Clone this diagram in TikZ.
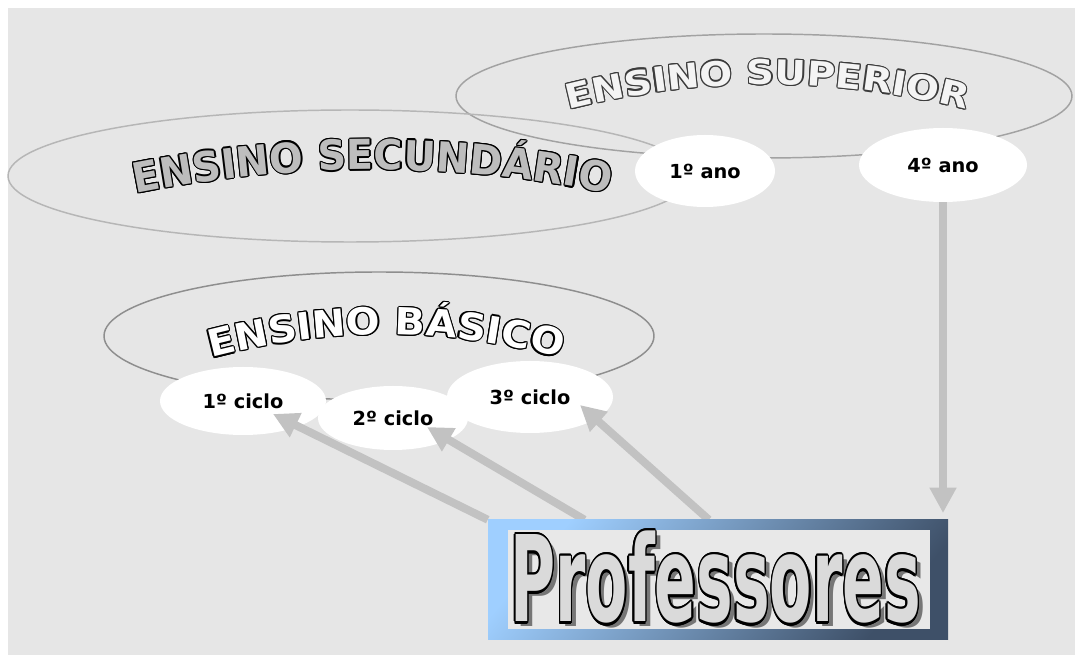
\documentclass[tikz,border=0pt]{standalone}
\usepackage{fontspec}
\usepackage{graphicx}
\usepackage{contour}
\usetikzlibrary{shapes.geometric,arrows.meta,calc,decorations.text}
\setmainfont{DejaVu Sans}
\newfontfamily\secfam{DejaVu Sans}[FakeStretch=0.96]
\newfontfamily\basfam{DejaVu Sans}[FakeStretch=1.07]
\newfontfamily\supfam{DejaVu Sans}[FakeStretch=1.14]
\newfontfamily\labfam{DejaVu Sans}

\definecolor{bggray}{HTML}{E6E6E6}
\definecolor{panelgray}{HTML}{E8E8E8}
\definecolor{arrgray}{HTML}{C2C2C2}
\definecolor{secfill}{HTML}{BDBDBD}
\definecolor{supfill}{HTML}{F4F4F4}
\definecolor{supline}{HTML}{3C3C3C}
\definecolor{ringsup}{HTML}{A2A2A2}
\definecolor{ringsec}{HTML}{B6B6B6}
\definecolor{ringbas}{HTML}{8E8E8E}
\definecolor{boxlight}{HTML}{9FCFFF}
\definecolor{boxdark}{HTML}{3E5068}
\definecolor{letterfill}{HTML}{DADADA}
\definecolor{shadowgray}{HTML}{767676}

\newcommand\secfont{\secfam\bfseries\fontsize{31}{33}\selectfont}
\newcommand\basfont{\basfam\bfseries\fontsize{28}{30}\selectfont}
\newcommand\supfont{\supfam\bfseries\fontsize{25.5}{28}\selectfont}
\newcommand\labelfont{\labfam\bfseries\fontsize{14.5}{16}\selectfont}
\newcommand\proffont{\labfam\bfseries\fontsize{93}{100}\selectfont}

% outlined text along an arc: #1 path, #2 font, #3 text, #4 fill, #5 outline
\newcommand\archedtitle[5]{%
  \foreach \a in {0,30,...,330}{%
    \path[decorate, shift={(\a:0.9pt)},
      decoration={text along path, text={|#2|#3}, text align=center, text color=#5}] #1;
  }%
  \path[decorate,
    decoration={text along path, text={|#2|#3}, text align=center, text color=#4}] #1;
}

\begin{document}
\begin{tikzpicture}[x=0.75pt, y=-0.75pt,
  bubble/.style={ellipse, fill=white, inner sep=0pt, font=\labelfont},
  arr/.style={draw=arrgray, line width=6pt, -{Triangle[length=19pt,width=19pt]}},
  ring/.style={line width=1.1pt}]
\useasboundingbox (0,0) rectangle (1075,655);
\fill[white] (0,0) rectangle (1075,655);
\fill[bggray] (8,8) rectangle (1075,655);

% level outlines
\draw[ring, draw=ringsup] (764,96) ellipse [x radius=308, y radius=62];
\draw[ring, draw=ringsec] (350,176) ellipse [x radius=342, y radius=66];
\draw[ring, draw=ringbas] (379,336) ellipse [x radius=275, y radius=64];

% arched level titles
\archedtitle{(110,199) .. controls (285,160) and (460,160) .. (635,199)}{\secfont}{ENSINO SECUNDÁRIO}{secfill}{black}
\archedtitle{(545,116) .. controls (693,74) and (842,74) .. (990,116)}{\supfont}{ENSINO SUPERIOR}{supfill}{supline}
\archedtitle{(190,364) .. controls (322,325) and (450,325) .. (582,364)}{\basfont}{ENSINO BÁSICO}{white}{black}

% years and cycles
\node[bubble, minimum width=105pt, minimum height=54pt] (ano1) at (705,171) {1º ano};
\node[bubble, minimum width=126pt, minimum height=55.5pt] (ano4) at (943,165) {4º ano};
\node[bubble, minimum width=124.5pt, minimum height=51pt] (c1) at (243,401) {1º ciclo};
\node[bubble, minimum width=112.5pt, minimum height=48pt] (c2) at (393,418) {2º ciclo};
\node[bubble, minimum width=124.5pt, minimum height=54pt] (c3) at (530,397) {3º ciclo};

% teachers banner frame (placed first so the arrows can refer to it)
\node[minimum width=345pt, minimum height=90pt, inner sep=0pt] (prof) at (718,580) {};

% arrows
\draw[arr, shorten >=5pt] (ano4.south) -- (ano4.south |- prof.north);
\draw[arr] (prof.north west) -- ($(c1)+(30,13)$);
\draw[arr] ($(prof.north west)!0.21!(prof.north east)$) -- ($(c2)+(34,9)$);
\draw[arr] ($(prof.north west)!0.48!(prof.north east)$) -- ($(c3)+(50,8)$);

% banner drawn over the arrow ends
\node[minimum width=345pt, minimum height=90pt, inner sep=0pt,
  top color=boxlight, bottom color=boxdark, shading angle=50] (profbox) at (prof) {};
\node[fill=panelgray, minimum width=316.5pt, minimum height=74.25pt, inner sep=0pt] (panel) at (719,579.5) {};
\node[anchor=base west, inner sep=0pt] (profshadow) at (515,627)
  {\resizebox{308pt}{68pt}{\proffont\color{shadowgray}Professores}};
\node[anchor=base west, inner sep=0pt] (proftext) at (510,622)
  {\contourlength{2pt}\resizebox{308pt}{68pt}{\proffont\color{letterfill}\contour{black}{Professores}}};
\end{tikzpicture}
\end{document}
